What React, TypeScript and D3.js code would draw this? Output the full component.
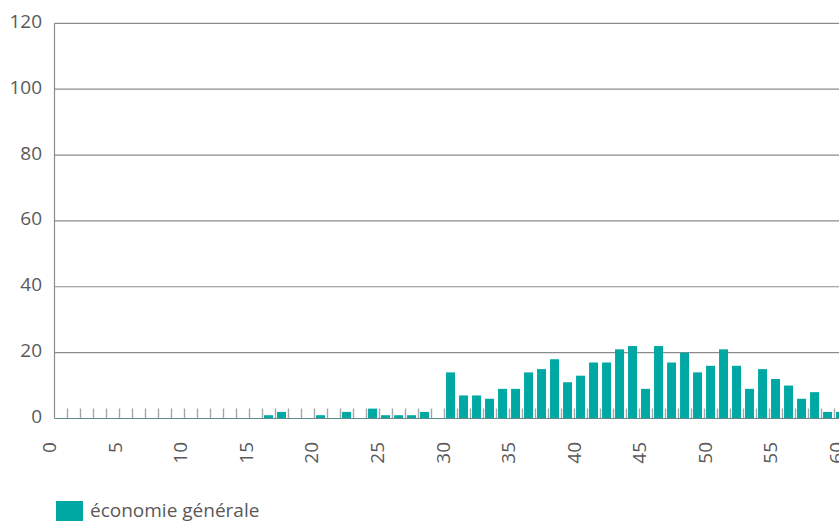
import React, { useEffect, useRef } from "react";
import * as d3 from "d3";

// nombre par catégorie (0..60)
const categories = d3.range(0, 61);
const values = [
  0, 0, 0, 0, 0, 0, 0, 0, 0, 0,
  0, 0, 0, 0, 0, 0, 1, 2, 0, 0,
  1, 0, 2, 0, 3, 1, 1, 1, 2, 0,
  14, 7, 7, 6, 9, 9, 14, 15, 18, 11,
  13, 17, 17, 21, 22, 9, 22, 17, 20, 14,
  16, 21, 16, 9, 15, 12, 10, 6, 8, 2,
  2,
];
const yTicks = [0, 20, 40, 60, 80, 100, 120];
const xLabels = [0, 5, 10, 15, 20, 25, 30, 35, 40, 45, 50, 55, 60];
const seriesName = "économie générale";

const FONT = "'Open Sans', 'Noto Sans', sans-serif";
const TEAL = "#00a8a4";
const TEXT = "#595959";

export default function App() {
  const svgRef = useRef<SVGSVGElement>(null);

  useEffect(() => {
    const width = 839;
    const height = 523;
    const left = 54.5;
    const step = 13.0;

    const svg = d3.select(svgRef.current);
    svg.selectAll("*").remove();
    svg.attr("width", width).attr("height", height);

    const x = d3
      .scaleBand<number>()
      .domain(categories)
      .range([left, left + step * categories.length])
      .padding(0);
    const labelX = d3.scaleLinear().domain([0, 60]).range([56, 843]);
    const y = d3.scaleLinear().domain([0, 120]).range([418.5, 23.3]);

    // grid
    svg
      .append("g")
      .selectAll("line")
      .data(yTicks.filter((d) => d > 0))
      .join("line")
      .attr("x1", left)
      .attr("x2", width)
      .attr("y1", (d) => y(d))
      .attr("y2", (d) => y(d))
      .attr("stroke", "#8c8c8c")
      .attr("stroke-width", 1.2);

    // left axis line
    svg
      .append("line")
      .attr("x1", left)
      .attr("x2", left)
      .attr("y1", y(120))
      .attr("y2", y(0))
      .attr("stroke", "#8c8c8c")
      .attr("stroke-width", 1.2);

    // y labels
    svg
      .append("g")
      .selectAll("text")
      .data(yTicks)
      .join("text")
      .attr("x", 42)
      .attr("y", (d) => y(d) + 4.5)
      .attr("text-anchor", "end")
      .style("font-family", FONT)
      .style("font-size", "19px")
      .style("fill", TEXT)
      .text((d) => d);

    // bars
    const bw = x.bandwidth();
    svg
      .append("g")
      .selectAll("rect")
      .data(categories.filter((c) => values[c] > 0))
      .join("rect")
      .attr("x", (c) => x(c)! + bw * 0.12)
      .attr("width", bw * 0.69)
      .attr("y", (c) => y(values[c]))
      .attr("height", (c) => y(0) - y(values[c]))
      .attr("fill", TEAL);

    // small ticks
    svg
      .append("g")
      .selectAll("line")
      .data(categories.filter((c) => c > 0))
      .join("line")
      .attr("x1", (c) => x(c)!)
      .attr("x2", (c) => x(c)!)
      .attr("y1", y(0) - 10)
      .attr("y2", y(0))
      .attr("stroke", "#a6a6a6")
      .attr("stroke-width", 1.4);

    // x axis line
    svg
      .append("line")
      .attr("x1", left)
      .attr("x2", width)
      .attr("y1", y(0))
      .attr("y2", y(0))
      .attr("stroke", "#5f8c8e")
      .attr("stroke-width", 1.2);

    // x labels
    svg
      .append("g")
      .selectAll("text")
      .data(xLabels)
      .join("text")
      .attr(
        "transform",
        (d) => `translate(${labelX(d)},442) rotate(-90)`
      )
      .attr("text-anchor", "end")
      .style("font-family", FONT)
      .style("font-size", "19px")
      .style("fill", TEXT)
      .text((d) => d);

    // legend
    svg
      .append("rect")
      .attr("x", 56)
      .attr("y", 501)
      .attr("width", 27)
      .attr("height", 20)
      .attr("fill", TEAL);
    svg
      .append("text")
      .attr("x", 90)
      .attr("y", 517)
      .style("font-family", FONT)
      .style("font-size", "19px")
      .style("fill", TEXT)
      .text(seriesName);
  }, []);

  return (
    <svg
      ref={svgRef}
      style={{ position: "absolute", left: 0, top: 0, display: "block" }}
    ></svg>
  );
}
